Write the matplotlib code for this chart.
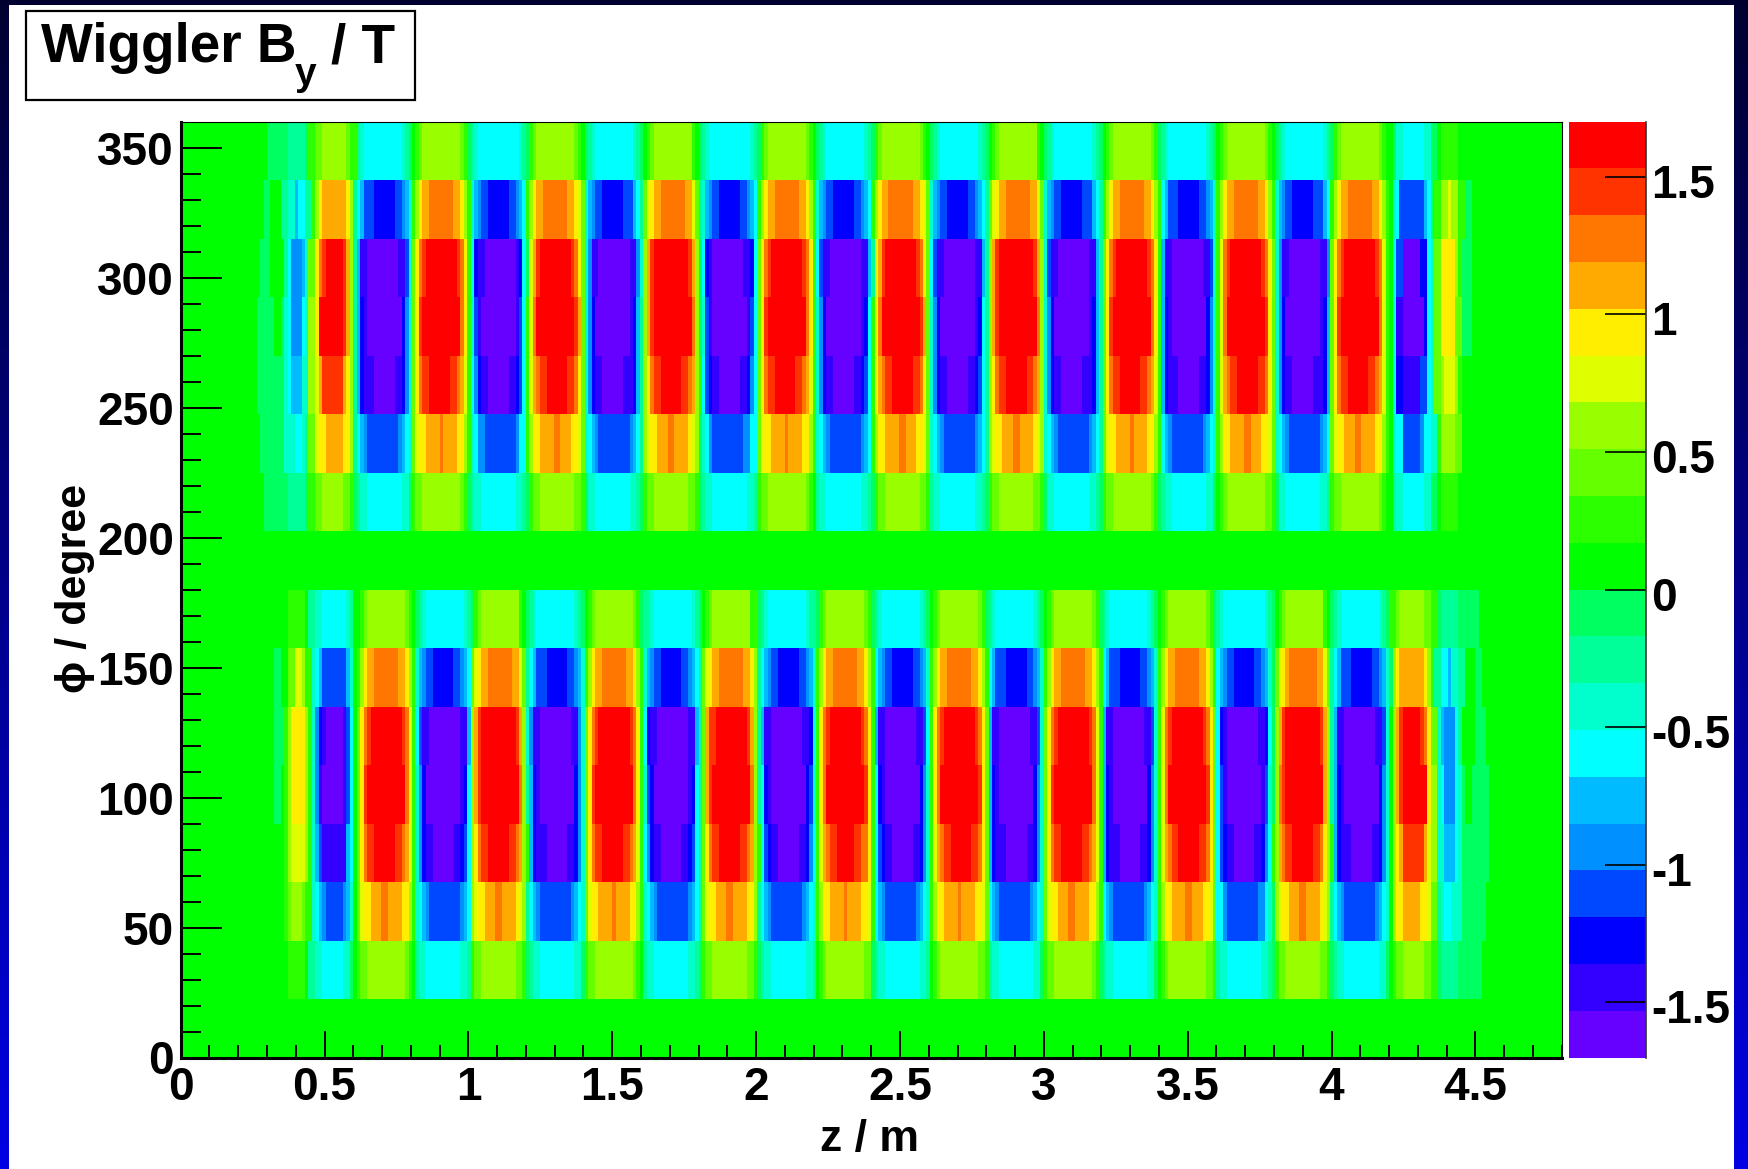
#!/usr/bin/env python3
"""Wiggler By field map, phi against z, drawn as a 16 x 400 bin colour map."""
import numpy as np
import matplotlib
matplotlib.use('Agg')
import matplotlib.pyplot as plt
from matplotlib.colors import ListedColormap, BoundaryNorm
from matplotlib.patches import Rectangle
from matplotlib.transforms import ScaledTranslation

W, H = 1749, 1169

# Colour bands, from lowest to highest
BAND_COLORS = ['#6600ff', '#3300ff', '#0000ff', '#0048ff', '#0090ff',
               '#00bbff', '#00ffff', '#00ffcc', '#00ff99', '#00ff60',
               '#00ff00', '#2bff00', '#66ff00', '#99ff00', '#dfff00',
               '#ffee00', '#ffaa00', '#ff7700', '#ff3300', '#ff0000']
BAND_WIDTH = 0.17
COLOR_TICKS = [-1.5, -1, -0.5, 0, 0.5, 1, 1.5]
COLOR_LABELS = ['-1.5', '-1', '-0.5', '0', '0.5', '1', '1.5']

N_Z = 400
Z_MAX = 4.8
N_PHI = 16
PHI_MAX = 360
Z_TICKS = [0, 0.5, 1, 1.5, 2, 2.5, 3, 3.5, 4, 4.5]
Z_LABELS = ['0', '0.5', '1', '1.5', '2', '2.5', '3', '3.5', '4', '4.5']
PHI_TICKS = [0, 50, 100, 150, 200, 250, 300, 350]

# Pole centres in z (m)
UPPER_POS = [0.905, 1.305, 1.705, 2.105, 2.505, 2.905, 3.305, 3.704, 4.096]
UPPER_NEG = [0.704, 1.104, 1.505, 1.908, 2.307, 2.703, 3.100, 3.500, 3.905]
LOWER_POS = [0.712, 1.105, 1.505, 1.910, 2.310, 2.707, 3.100, 3.500, 3.900]
LOWER_NEG = [0.915, 1.303, 1.706, 2.110, 2.505, 2.900, 3.296, 3.695, 4.100]

# Half widths of a pole in bins, per band (from the weakest band up).
# Rows go from the outer edge of a magnet half (A) to its other edge (G).
POS_WIDTHS = [
    [7.4, 6.3, 5.5],
    [8.3, 7.8, 7.4, 6.8, 6.4, 5.5, 3.5],
    [8.2, 8.0, 7.6, 7.3, 7.1, 6.7, 6.2, 5.7, 4.6],
    [8.3, 8.0, 7.6, 7.3, 7.1, 6.8, 6.5, 6.0, 5.5],
    [8.5, 8.0, 7.6, 7.3, 7.0, 6.5, 6.0, 5.0, 3.0],
    [8.3, 8.0, 7.6, 7.0, 6.4, 4.5, 0.9],
    [8.0, 7.0, 5.2],
]
NEG_WIDTHS = [
    [8.7, 7.7, 6.6, 5.6],
    [9.0, 8.5, 8.0, 7.5, 7.0, 6.0, 5.2, 3.0],
    [8.8, 8.4, 8.1, 7.8, 7.4, 7.1, 6.9, 6.7, 6.4, 4.5],
    [8.8, 8.4, 8.0, 7.5, 7.2, 7.0, 6.7, 6.4, 5.6, 5.0],
    [8.8, 8.4, 8.0, 7.7, 7.2, 7.0, 6.5, 6.2, 5.2, 3.0],
    [8.8, 8.4, 8.0, 7.5, 6.4, 5.6, 4.5],
    [8.6, 7.8, 7.0, 5.0],
]

# The ends of the magnet, as runs of bins: edges and the band of each run.
# Band numbers: 1..10 upwards from zero, -1..-10 downwards from zero.
UL_EDGES = [
    [25, 31, 36, 37, 39, 41, 48, 49, 51],
    [24, 26, 29, 31, 33, 34, 36, 38, 39, 40, 41, 48, 49, 50],
    [23, 26, 30, 31, 32, 35, 36, 37, 39, 40, 41, 42, 47, 48, 49, 50],
    [22, 27, 29, 30, 31, 32, 35, 36, 37, 39, 40, 47, 48, 49, 50],
    [22, 30, 31, 32, 35, 37, 39, 40, 41, 47, 48, 49, 50],
    [23, 30, 33, 35, 36, 37, 39, 40, 42, 47, 49, 50],
    [24, 31, 36, 37, 39, 41, 47, 49, 50],
]
UL_BANDS = [
    [-1, -2, -1, 2, 3, 4, 3, 2],
    [-1, 1, -2, -3, -5, -4, -2, 2, 4, 6, 7, 6, 4],
    [-1, 1, -2, -4, -6, -5, -3, 3, 6, 8, 9, 10, 9, 7, 4],
    [-1, 1, -1, -3, -4, -6, -4, -3, 4, 6, 10, 9, 7, 4],
    [-1, -3, -4, -5, -3, 4, 5, 7, 9, 7, 6, 4],
    [-1, -3, -4, -3, -2, 3, 5, 6, 7, 6, 4],
    [-1, -2, -1, 2, 3, 4, 3, 2],
]
UR_EDGES = [
    [351, 352, 354, 360, 362, 364, 365, 370],
    [351, 352, 353, 360, 361, 362, 363, 365, 367, 368, 370, 372, 374],
    [351, 352, 354, 359, 361, 362, 363, 365, 369, 370, 371, 374],
    [351, 352, 354, 360, 361, 362, 363, 365, 369, 371, 374],
    [351, 352, 354, 359, 361, 362, 363, 365, 366, 369, 370, 371],
    [351, 352, 354, 359, 360, 362, 364, 365, 369, 371],
    [351, 352, 354, 360, 362, 364, 365, 370],
]
UR_BANDS = [
    [-1, -3, -4, -3, -1, 1, 2],
    [-3, -4, -7, -5, -4, -1, 2, 4, 5, 4, 2, -1],
    [-4, -7, -10, -8, -4, -3, 3, 6, 4, 2, -1],
    [-4, -9, -10, -8, -4, -3, 3, 6, 3, -1],
    [-4, -8, -9, -7, -4, -3, 3, 4, 5, 4, 2],
    [-3, -4, -7, -6, -4, -3, 2, 4, 3],
    [-2, -3, -4, -3, -1, 1, 2],
]
LL_EDGES = [
    [31, 36, 37, 39, 41, 48, 49, 50],
    [27, 29, 31, 33, 35, 36, 38, 39, 40, 41, 48, 49, 50],
    [27, 30, 31, 32, 36, 37, 38, 39, 40, 41, 42, 47, 48, 49, 50],
    [27, 29, 30, 31, 32, 36, 37, 38, 39, 40, 41, 47, 48, 49, 50],
    [30, 31, 32, 36, 37, 38, 39, 40, 41, 48, 49, 50],
    [30, 31, 32, 35, 36, 38, 39, 40, 41, 42, 47, 48, 49, 50],
    [31, 36, 37, 39, 41, 47, 49, 50],
]
LL_BANDS = [
    [2, 1, -2, -3, -4, -3, -2],
    [-1, 1, 3, 5, 4, 2, -3, -4, -5, -7, -5, -3],
    [-1, 2, 4, 6, 4, 2, -3, -6, -8, -9, -10, -9, -7, -4],
    [-1, 1, 2, 4, 6, 4, 2, -3, -6, -9, -10, -9, -7, -4],
    [2, 4, 5, 4, 2, -3, -5, -7, -9, -5, -4],
    [2, 3, 4, 3, 2, -3, -4, -5, -6, -7, -6, -5, -3],
    [2, 1, -2, -3, -4, -3, -1],
]
# The lower right end has the pattern of the upper left end, turned round
LR_MIRROR_BIN = 401


def band_value(band):
    """Field value in the middle of a band."""
    return (band - 0.5) * BAND_WIDTH if band > 0 else (band + 0.5) * BAND_WIDTH


def paint(grid, row, start, stop, band):
    for i in range(max(start, 0), min(stop, N_Z)):
        cur = grid[row, i]
        if cur == 1 or abs(band) > abs(cur):
            grid[row, i] = band


def paint_runs(grid, base, edges_rows, band_rows, mirror=False):
    for k, (edges, bands) in enumerate(zip(edges_rows, band_rows)):
        row = base + 6 - k
        for e0, e1, band in zip(edges[:-1], edges[1:], bands):
            if mirror:
                e0, e1 = LR_MIRROR_BIN - e1, LR_MIRROR_BIN - e0
            paint(grid, row, e0, e1, band)


def paint_poles(grid, base, centres, widths_rows, sign):
    bin_z = (np.arange(N_Z) + 0.5) * Z_MAX / N_Z
    dz = Z_MAX / N_Z
    for k, widths in enumerate(widths_rows):
        row = base + 6 - k
        first = 2 if sign > 0 else 1
        for c in centres:
            for n, hw in enumerate(widths):
                inside = np.nonzero(np.abs(bin_z - c) < hw * dz)[0]
                if len(inside):
                    paint(grid, row, inside[0], inside[-1] + 1, sign * (first + n))


def build_field():
    grid = np.ones((N_PHI, N_Z), dtype=int)
    paint_runs(grid, 9, UL_EDGES, UL_BANDS)
    paint_runs(grid, 9, UR_EDGES, UR_BANDS)
    paint_runs(grid, 1, LL_EDGES, LL_BANDS)
    paint_runs(grid, 1, UL_EDGES, UL_BANDS, mirror=True)
    paint_poles(grid, 9, UPPER_POS, POS_WIDTHS, 1)
    paint_poles(grid, 9, UPPER_NEG, NEG_WIDTHS, -1)
    paint_poles(grid, 1, LOWER_POS, POS_WIDTHS, 1)
    paint_poles(grid, 1, LOWER_NEG, NEG_WIDTHS, -1)
    field = np.vectorize(band_value)(grid)
    return field


def px_axes(fig, left, top, right, bottom):
    return fig.add_axes([left / W, 1 - bottom / H, (right - left) / W, (bottom - top) / H])


plt.rcParams['font.family'] = ['Liberation Sans', 'DejaVu Sans']
plt.rcParams['font.weight'] = 'bold'

fig = plt.figure(figsize=(W / 100, H / 100), dpi=100, facecolor='white')

# Blue slide background behind the white page
bg = fig.add_axes([0, 0, 1, 1], zorder=-1)
bg.imshow(np.linspace(0, 1, 256).reshape(-1, 1), aspect='auto', extent=(0, W, H, 0),
          cmap=ListedColormap(np.column_stack([np.zeros(256), np.zeros(256), np.linspace(0.19, 0.89, 256)])))
bg.add_patch(Rectangle((9, 5), 1725, H, facecolor='white', edgecolor='none'))
bg.set_xlim(0, W)
bg.set_ylim(H, 0)
bg.axis('off')

boundaries = np.linspace(-1.7, 1.7, 21)
cmap = ListedColormap(BAND_COLORS)
norm = BoundaryNorm(boundaries, cmap.N)

ax = px_axes(fig, 180.7, 121.6, 1561.7, 1057.5)
z_edges = np.linspace(0, Z_MAX, N_Z + 1)
phi_edges = np.linspace(0, PHI_MAX, N_PHI + 1)
ax.pcolormesh(z_edges, phi_edges, build_field(), cmap=cmap, norm=norm, antialiased=False, linewidth=0)
ax.set_xlim(0, Z_MAX)
ax.set_ylim(0, PHI_MAX)

ax.set_xticks(Z_TICKS)
ax.set_xticklabels(Z_LABELS)
ax.set_xticks(np.arange(0, 4.81, 0.1), minor=True)
ax.set_yticks(PHI_TICKS)
ax.set_yticks(np.arange(0, 360, 10), minor=True)
ax.tick_params(axis='x', which='major', direction='in', length=19.5, width=1.4, labelsize=33, pad=6)
ax.tick_params(axis='x', which='minor', direction='in', length=9.5, width=1.4)
ax.tick_params(axis='y', which='major', direction='in', length=29.5, width=1.4, labelsize=33, pad=5)
ax.tick_params(axis='y', which='minor', direction='in', length=14.5, width=1.4)
ax.spines['left'].set_linewidth(2.2)
ax.spines['bottom'].set_linewidth(2.2)
ax.spines['top'].set_linewidth(0.8)
ax.spines['right'].set_linewidth(0.8)

# Colour scale
cax = px_axes(fig, 1569.5, 121.6, 1646.5, 1057.5)
cax.pcolormesh([0, 1], boundaries, (boundaries[:-1] + BAND_WIDTH / 2).reshape(-1, 1),
               cmap=cmap, norm=norm, antialiased=False, linewidth=0)
cax.set_xlim(0, 1)
cax.set_ylim(-1.7, 1.7)
cax.set_xticks([])
cax.yaxis.tick_right()
cax.set_yticks(COLOR_TICKS)
cax.set_yticklabels(COLOR_LABELS)
cax.tick_params(axis='y', direction='in', length=29.5, width=1.2, labelsize=33, pad=3.5)
# these labels sit a little under their ticks
shift_down = ScaledTranslation(0, -0.04, fig.dpi_scale_trans)
for lbl in cax.get_yticklabels():
    lbl.set_transform(lbl.get_transform() + shift_down)
for name in ['left', 'top', 'bottom']:
    cax.spines[name].set_visible(False)
cax.spines['right'].set_linewidth(1.2)
cax.spines['right'].set_color('#333333')

# Axis titles
fig.text(870 / W, 1 - 1140 / H, 'z / m', fontsize=32, ha='center', va='center')
fig.text(75 / W, 1 - 588 / H, '\u03d5 / degree', fontsize=31, rotation=90, ha='center', va='center')

# Title box
bg.add_patch(Rectangle((26, 11), 389, 89, facecolor='white', edgecolor='black', linewidth=1.6))
bg.text(41, 62, 'Wiggler B', fontsize=39.5, ha='left', va='baseline')
bg.text(295, 85, 'y', fontsize=28, ha='left', va='baseline')
bg.text(331, 62, '/ T', fontsize=39.5, ha='left', va='baseline')

fig.savefig('out.png', dpi=100, facecolor='white')
